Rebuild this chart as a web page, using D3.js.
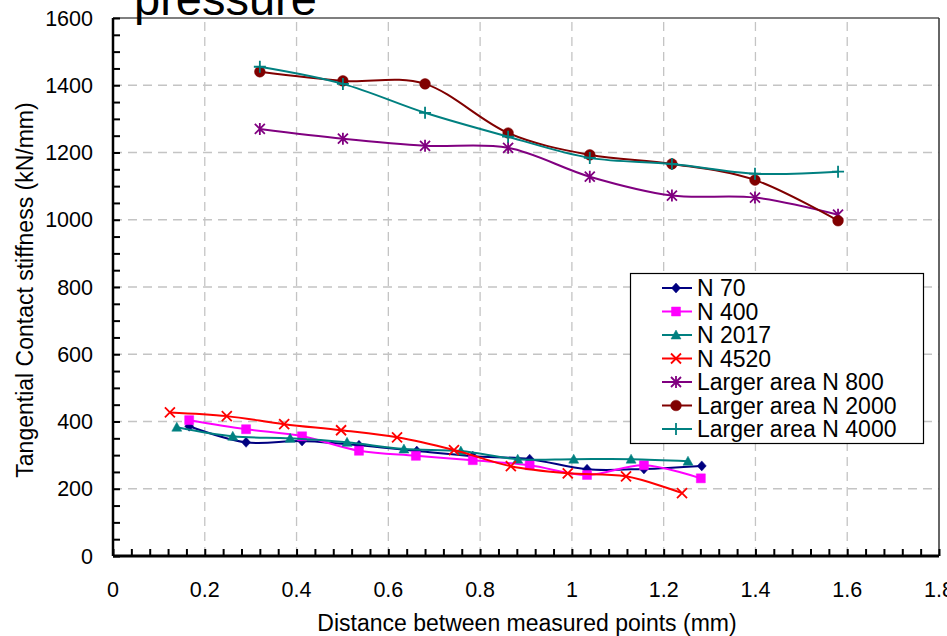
<html>
  <head>
    <script src="https://cdnjs.cloudflare.com/ajax/libs/d3/7.8.5/d3.min.js"></script>
    <style>
      body { margin: 0; background: #fff; }
      svg { display: block; font-family: "Liberation Sans", Arial, sans-serif; }
      .grid line { stroke: #c4c4c4; stroke-width: 1.3px; stroke-dasharray: 9,6; }
    </style>
  </head>
  <body>
    <svg width="947" height="636"></svg>
    <script>
      // values
      const xTicks = [0, 0.2, 0.4, 0.6, 0.8, 1, 1.2, 1.4, 1.6, 1.8];
      const yTicks = [0, 200, 400, 600, 800, 1000, 1200, 1400, 1600];

      const n70X = [0.166, 0.29, 0.412, 0.536, 0.662, 0.784, 0.908, 1.033, 1.157, 1.283];
      const n70Y = [386, 338, 342, 329, 312, 297, 288, 258, 259, 268];
      const n400X = [0.166, 0.29, 0.412, 0.536, 0.66, 0.784, 0.908, 1.033, 1.157, 1.281];
      const n400Y = [404, 377, 356, 313, 298, 285, 270, 241, 270, 231];
      const n2017X = [0.139, 0.261, 0.386, 0.51, 0.634, 0.758, 0.882, 1.004, 1.129, 1.253];
      const n2017Y = [383, 356, 350, 338, 318, 312, 288, 288, 288, 282];
      const n4520X = [0.124, 0.248, 0.373, 0.497, 0.619, 0.743, 0.867, 0.991, 1.118, 1.24];
      const n4520Y = [427, 416, 392, 374, 353, 315, 267, 246, 237, 187];
      const largeX = [0.32, 0.501, 0.68, 0.861, 1.039, 1.218, 1.399, 1.58];
      const n800Y = [1270, 1241, 1220, 1214, 1128, 1072, 1066, 1015];
      const n2000Y = [1440, 1413, 1404, 1258, 1193, 1166, 1118, 997];
      const n4000Y = [1455, 1404, 1318, 1247, 1184, 1166, 1137, 1143];

      const seriesNames = ["N 70", "N 400", "N 2017", "N 4520", "Larger area N 800", "Larger area N 2000", "Larger area N 4000"];
      const seriesX = [n70X, n400X, n2017X, n4520X, largeX, largeX, largeX];
      const seriesY = [n70Y, n400Y, n2017Y, n4520Y, n800Y, n2000Y, n4000Y];
      const colors = ["#000080", "#ff00ff", "#008080", "#ff0000", "#800080", "#800000", "#008080"];
      const markers = ["diamond", "square", "triangle", "times", "asterisk", "circle", "plus"];

      const svg = d3.select("svg");
      const x = d3.scaleLinear().domain([0, 1.8]).range([113, 939]);
      const y = d3.scaleLinear().domain([0, 1600]).range([556, 18]);

      // gridlines
      const grid = svg.append("g").attr("class", "grid");
      grid.selectAll(".gx").data(xTicks.slice(1, -1)).join("line")
        .attr("x1", d => x(d)).attr("x2", d => x(d)).attr("y1", y(0)).attr("y2", y(1600));
      grid.selectAll(".gy").data(yTicks.slice(1, -1)).join("line")
        .attr("x1", x(0)).attr("x2", x(1.8)).attr("y1", d => y(d)).attr("y2", d => y(d));

      // frame top / right
      svg.append("line").attr("x1", x(0)).attr("x2", x(1.8)).attr("y1", y(1600)).attr("y2", y(1600))
        .attr("stroke", "#000").attr("stroke-width", 1.2);
      svg.append("line").attr("x1", x(1.8)).attr("x2", x(1.8)).attr("y1", y(1600)).attr("y2", y(0))
        .attr("stroke", "#333").attr("stroke-width", 1.5);

      // axes with inside ticks
      const xAxis = svg.append("g").attr("transform", `translate(0,${y(0)})`)
        .call(d3.axisBottom(x).tickValues(d3.range(0, 1.801, 0.04)).tickSize(-7).tickFormat(""));
      xAxis.select(".domain").attr("stroke-width", 3).attr("d", `M${x(0)},0H${x(1.8)}`);
      xAxis.selectAll(".tick line").attr("stroke-width", 2);
      const yAxis = svg.append("g").attr("transform", `translate(${x(0)},0)`)
        .call(d3.axisLeft(y).tickValues(d3.range(0, 1601, 50)).tickSize(-7).tickFormat(""));
      yAxis.select(".domain").attr("stroke-width", 2.5).attr("d", `M0,${y(0)}V${y(1600)}`);
      yAxis.selectAll(".tick line").attr("stroke-width", 2);

      svg.append("g").selectAll("text").data(xTicks).join("text")
        .attr("x", d => x(d)).attr("y", 597).attr("text-anchor", "middle")
        .attr("font-size", 21.5).text(d => d);
      svg.append("g").selectAll("text").data(yTicks).join("text")
        .attr("x", 93).attr("y", d => y(d)).attr("dy", "0.36em").attr("text-anchor", "end")
        .attr("font-size", 21.5).text(d => d);

      svg.append("text").attr("x", 527).attr("y", 631).attr("text-anchor", "middle")
        .attr("font-size", 23).text("Distance between measured points (mm)");
      svg.append("text").attr("transform", "translate(33,290) rotate(-90)").attr("text-anchor", "middle")
        .attr("font-size", 23).text("Tangential Contact stiffness (kN/mm)");
      svg.append("text").attr("x", 134).attr("y", 15).attr("font-size", 47).text("pressure");

      function markerPath(type) {
        switch (type) {
          case "diamond": return "M0,-5L4.5,0L0,5L-4.5,0Z";
          case "square": return "M-4.5,-4.5H4.5V4.5H-4.5Z";
          case "triangle": return "M0,-5L5,4L-5,4Z";
          case "times": return "M-5,-5L5,5M-5,5L5,-5";
          case "asterisk": return "M-5,-5L5,5M-5,5L5,-5M0,-6V6";
          case "plus": return "M-6,0H6M0,-6V6";
          case "circle": return d3.symbol(d3.symbolCircle, 90)();
        }
      }
      const stroked = t => t === "times" || t === "asterisk" || t === "plus";

      const line = d3.line().x(d => x(d[0])).y(d => y(d[1])).curve(d3.curveCardinal.tension(0));

      seriesNames.forEach((name, i) => {
        const pts = seriesX[i].map((v, j) => [v, seriesY[i][j]]);
        const g = svg.append("g");
        g.append("path").attr("d", line(pts)).attr("fill", "none")
          .attr("stroke", colors[i]).attr("stroke-width", 2);
        g.selectAll("path.m").data(pts).join("path").attr("class", "m")
          .attr("transform", d => `translate(${x(d[0])},${y(d[1])})`)
          .attr("d", markerPath(markers[i]))
          .attr("fill", stroked(markers[i]) ? "none" : colors[i])
          .attr("stroke", colors[i]).attr("stroke-width", stroked(markers[i]) ? 1.8 : 0.5);
      });

      // legend
      const lg = svg.append("g");
      lg.append("rect").attr("x", 630.5).attr("y", 273.5).attr("width", 293).attr("height", 170)
        .attr("fill", "#fff").attr("stroke", "#000").attr("stroke-width", 1.2);
      seriesNames.forEach((name, i) => {
        const ly = 288 + i * 23.5;
        lg.append("line").attr("x1", 662).attr("x2", 692).attr("y1", ly).attr("y2", ly)
          .attr("stroke", colors[i]).attr("stroke-width", 2);
        lg.append("path").attr("transform", `translate(676,${ly})`).attr("d", markerPath(markers[i]))
          .attr("fill", stroked(markers[i]) ? "none" : colors[i])
          .attr("stroke", colors[i]).attr("stroke-width", stroked(markers[i]) ? 1.8 : 0.5);
        lg.append("text").attr("x", 697).attr("y", ly).attr("dy", "0.36em")
          .attr("font-size", 23).text(name);
      });
    </script>
  </body>
</html>
